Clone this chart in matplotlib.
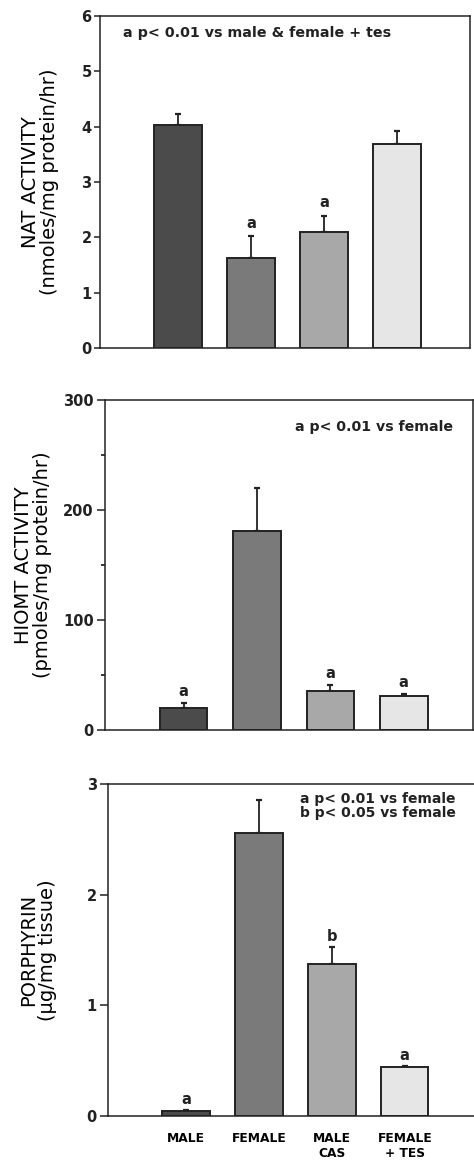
import numpy as np
import matplotlib
matplotlib.use("Agg")
import matplotlib.pyplot as plt

plt.rcParams['font.family'] = ['DejaVu Sans']

groups = ['MALE', 'FEMALE', 'MALE\nCAS', 'FEMALE\n+ TES']
bar_colors = ['#4b4b4b', '#7a7a7a', '#a8a8a8', '#e6e6e6']

# NAT activity (nmoles/mg protein/hr)
nat_mean = [4.03, 1.63, 2.10, 3.69]
nat_err = [0.20, 0.39, 0.29, 0.23]
nat_sig = ['', 'a', 'a', '']

# HIOMT activity (pmoles/mg protein/hr)
hiomt_mean = [20, 181, 35, 31]
hiomt_err = [4.5, 39, 6, 2]
hiomt_sig = ['a', '', 'a', 'a']

# porphyrin (ug/mg tissue)
por_mean = [0.045, 2.56, 1.37, 0.44]
por_err = [0.01, 0.30, 0.16, 0.01]
por_sig = ['a', '', 'b', 'a']

x = np.arange(len(groups))

fig = plt.figure(figsize=(4.74, 11.65), dpi=100)
ax1 = fig.add_axes([0.211, 0.7013, 0.781, 0.285])
ax2 = fig.add_axes([0.2215, 0.3734, 0.776, 0.2833])
ax3 = fig.add_axes([0.228, 0.0423, 0.772, 0.2847])


def draw_panel(ax, mean, err, sig, ylim, yticks, xright, sig_off):
    ax.bar(x, mean, width=0.65, color=bar_colors, edgecolor='#222222',
           linewidth=1.4, zorder=2)
    ax.errorbar(x, mean, yerr=[np.zeros(len(mean)), err], fmt='none',
                ecolor='#222222', elinewidth=1.3, capsize=2.5, capthick=1.6,
                zorder=1)
    for xi, m, e, s in zip(x, mean, err, sig):
        if s:
            ax.annotate(s, (xi, m + e), xytext=(0, sig_off),
                        textcoords='offset points', ha='center', va='bottom',
                        fontsize=10.5, fontweight='bold', color='#222222')
    ax.set_xlim(-1.07, xright)
    ax.set_ylim(*ylim)
    ax.set_yticks(yticks)
    for sp in ax.spines.values():
        sp.set_linewidth(1.1)
        sp.set_color('#222222')
    ax.tick_params(axis='y', direction='out', length=4, width=1.1,
                   labelsize=10.5, pad=2, colors='#222222')
    for lab in ax.get_yticklabels():
        lab.set_fontweight('bold')
    ax.tick_params(axis='x', length=0)


draw_panel(ax1, nat_mean, nat_err, nat_sig, (0, 6), range(0, 7), 4.0, 4)
ax1.set_xticks([])
ax1.set_ylabel('NAT ACTIVITY\n(nmoles/mg protein/hr)', fontsize=14,
               linespacing=0.95)
ax1.yaxis.set_label_coords(-0.112, 0.5)
ax1.text(0.062, 0.949, 'a p< 0.01 vs male & female + tes',
         transform=ax1.transAxes, fontsize=10.3, fontweight='bold',
         va='center', ha='left', color='#222222')

draw_panel(ax2, hiomt_mean, hiomt_err, hiomt_sig, (0, 300),
           [0, 100, 200, 300], 3.94, 3)
ax2.set_xticks([])
ax2.set_yticks([50, 150, 250], minor=True)
ax2.tick_params(axis='y', which='major', length=6)
ax2.tick_params(axis='y', which='minor', length=3, width=1.1)
ax2.set_ylabel('HIOMT ACTIVITY\n(pmoles/mg protein/hr)', fontsize=14,
               linespacing=0.95)
ax2.yaxis.set_label_coords(-0.145, 0.5)
ax2.text(0.946, 0.918, 'a p< 0.01 vs female', transform=ax2.transAxes,
         fontsize=10.2, fontweight='bold', va='center', ha='right',
         color='#222222')

draw_panel(ax3, por_mean, por_err, por_sig, (0, 3), [0, 1, 2, 3],
           3.95, 2)
ax3.spines['right'].set_visible(False)
ax3.tick_params(axis='y', which='major', length=6)
ax3.set_xticks(x)
ax3.set_xticklabels(groups, fontsize=8.8, fontweight='bold',
                    linespacing=1.15)
ax3.tick_params(axis='x', pad=12)
ax3.set_ylabel('PORPHYRIN\n(\u03bcg/mg tissue)', fontsize=14,
               linespacing=0.95)
ax3.yaxis.set_label_coords(-0.14, 0.5)
ax3.text(0.525, 0.934, 'a p< 0.01 vs female\nb p< 0.05 vs female',
         transform=ax3.transAxes, fontsize=10, fontweight='bold',
         va='center', ha='left', color='#222222', linespacing=1.0)

fig.savefig('out.png', dpi=100)
